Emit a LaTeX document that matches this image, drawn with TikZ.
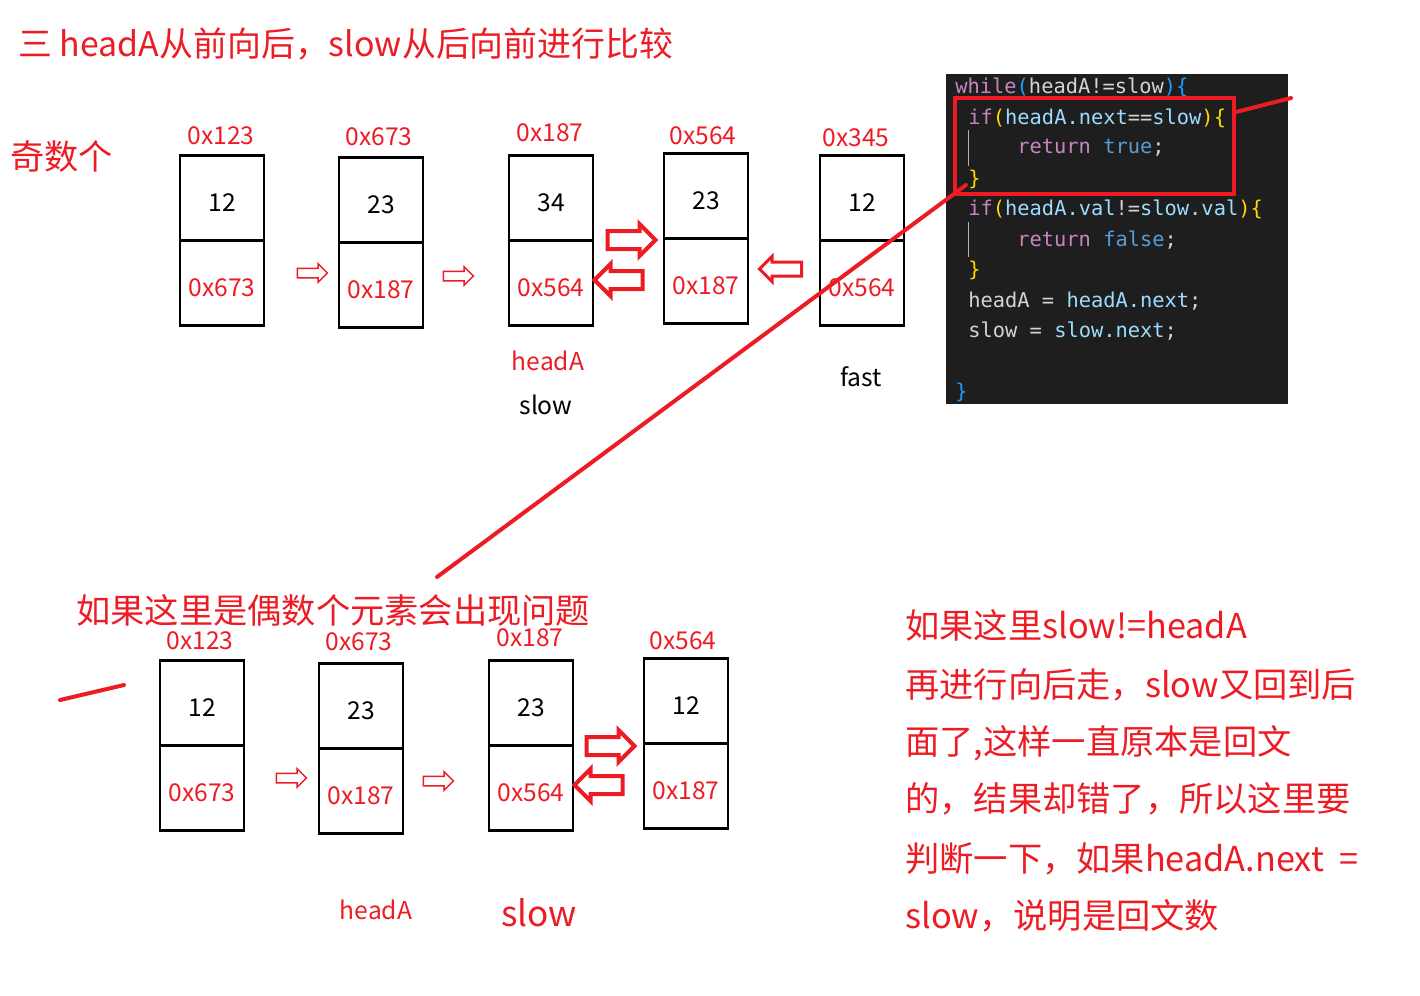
\documentclass[tikz,border=0pt]{standalone}
\usepackage{fontspec}
\setmainfont{Noto Sans CJK SC}
\setmonofont{DejaVu Sans Mono}
\usetikzlibrary{positioning,shapes.arrows}
\definecolor{mkred}{HTML}{ED1C24}
\definecolor{codebg}{HTML}{1E1E1E}
\definecolor{cplain}{HTML}{D4D4D4}
\definecolor{ckey}{HTML}{C586C0}
\definecolor{cvar}{HTML}{9CDCFE}
\definecolor{cblue}{HTML}{569CD6}
\definecolor{cbra}{HTML}{179FFF}
\definecolor{cbrb}{HTML}{FFD700}
\begin{document}
\begin{tikzpicture}[
    x=0.02cm, y=-0.02cm,
    cell/.style={draw, line width=0.05cm, outer sep=0pt, inner sep=0pt, minimum width=1.68cm, minimum height=1.7cm, text height=15pt, text depth=0pt, font=\fontsize{14}{16}\selectfont},
    ptr/.style={cell, text=mkred},
    addr/.style={text=mkred, inner sep=0pt, font=\fontsize{14}{16}\selectfont},
    lbl/.style={inner sep=0pt, font=\fontsize{14}{16}\selectfont},
    note/.style={text=mkred, anchor=west, inner sep=0pt, font=\fontsize{19.5}{22}\selectfont},
    harrow/.style={single arrow, draw=mkred, line width=0.03cm, inner sep=0.08cm, minimum height=0.6cm, single arrow head extend=0.09cm},
    marrow/.style={single arrow, draw=mkred, line width=0.06cm, inner sep=0.11cm, minimum height=0.84cm, single arrow head extend=0.11cm},
    barrow/.style={single arrow, draw=mkred, line width=0.08cm, inner sep=0.14cm, minimum height=0.96cm, single arrow head extend=0.14cm},
    code/.style={anchor=west, inner sep=0pt, text=cplain, font=\fontsize{11.6}{13}\selectfont\ttfamily},
    redline/.style={draw=mkred, line width=0.08cm, line cap=round}
]
\path[use as bounding box] (0,0) rectangle (1420,995);

% headings
\node[note, font=\fontsize{19.3}{22}\selectfont] (title) at (18,44) {三 headA从前向后，slow从后向前进行比较};
\node[note] (odd) at (10,157) {奇数个};

% odd list
\node[cell] (t1v) at (222,198) {12};
\node[ptr, below=0pt of t1v] (t1p) {0x673};
\node[addr] (t1a) at (221,136) {0x123};
\node[cell] (t2v) at (381,200) {23};
\node[ptr, below=0pt of t2v] (t2p) {0x187};
\node[addr] (t2a) at (379,137) {0x673};
\node[cell] (t3v) at (551,198) {34};
\node[ptr, below=0pt of t3v] (t3p) {0x564};
\node[addr] (t3a) at (550,133) {0x187};
\node[cell] (t4v) at (706,196) {23};
\node[ptr, below=0pt of t4v] (t4p) {0x187};
\node[addr] (t4a) at (703,136) {0x564};
\node[cell] (t5v) at (862,198) {12};
\node[ptr, below=0pt of t5v] (t5p) {0x564};
\node[addr] (t5a) at (856,138) {0x345};

\node[harrow] (ta1) at (310,273) {};
\node[harrow] (ta2) at (456,276) {};
\node[barrow] (ta3) at (627,240) {};
\node[barrow, shape border rotate=180] (ta4) at (623,280) {};
\node[marrow, shape border rotate=180] (ta5) at (784,269) {};

\node[lbl, text=mkred] (theada) at (548,361) {headA};
\node[lbl] (tslow) at (546,405) {slow};
\node[lbl] (tfast) at (861,377) {fast};

% code
\fill[codebg] (946,74) rectangle (1288,404);
\draw[gray!60, line width=0.02cm] (968,130) -- (968,166) (968,222) -- (968,257);
\node[code] (c1) at (955,87) {{\color{ckey}while}{\color{cbra}(}headA!=slow{\color{cbra})\{}};
\node[code] (c2) at (968,118) {{\color{ckey}if}{\color{cbrb}(}{\color{cvar}headA.next}=={\color{cvar}slow}{\color{cbrb})\{}};
\node[code] (c3) at (1017,148) {{\color{ckey}return} {\color{cblue}true};};
\node[code] (c4) at (968,179) {{\color{cbrb}\}}};
\node[code] (c5) at (968,209) {{\color{ckey}if}{\color{cbrb}(}{\color{cvar}headA.val}!={\color{cvar}slow.val}{\color{cbrb})\{}};
\node[code] (c6) at (1017,240) {{\color{ckey}return} {\color{cblue}false};};
\node[code] (c7) at (968,270) {{\color{cbrb}\}}};
\node[code] (c8) at (968,301) {headA = {\color{cvar}headA.next};};
\node[code] (c9) at (968,331) {slow = {\color{cvar}slow.next};};
\node[code] (c10) at (955,392) {{\color{cbra}\}}};
\node[draw=mkred, line width=0.08cm, minimum width=5.58cm, minimum height=1.92cm] (redbox) at (1094.5,146) {};

% even list
\node[note] (even) at (76,610) {如果这里是偶数个元素会出现问题};
\node[cell] (b1v) at (202,703) {12};
\node[ptr, below=0pt of b1v] (b1p) {0x673};
\node[addr] (b1a) at (200,641) {0x123};
\node[cell] (b2v) at (361,706) {23};
\node[ptr, below=0pt of b2v] (b2p) {0x187};
\node[addr] (b2a) at (359,642) {0x673};
\node[cell] (b3v) at (531,703) {23};
\node[ptr, below=0pt of b3v] (b3p) {0x564};
\node[addr] (b3a) at (530,638) {0x187};
\node[cell] (b4v) at (686,701) {12};
\node[ptr, below=0pt of b4v] (b4p) {0x187};
\node[addr] (b4a) at (683,641) {0x564};

\node[harrow] (ba1) at (289,778) {};
\node[harrow] (ba2) at (436,781) {};
\node[barrow] (ba3) at (606,746) {};
\node[barrow, shape border rotate=180] (ba4) at (603,785) {};

\node[lbl, text=mkred] (bheada) at (376,910) {headA};
\node[lbl, text=mkred, font=\fontsize{20}{22}\selectfont] (bslow) at (539,913) {slow};

% explanation
\node[note] (n1) at (905,625) {如果这里slow!=headA};
\node[note] (n2) at (905,685) {再进行向后走，slow又回到后};
\node[note] (n3) at (905,743) {面了,这样一直原本是回文};
\node[note] (n4) at (905,799) {的，结果却错了，所以这里要};
\node[note] (n5) at (905,859) {判断一下，如果headA.next\ \ =};
\node[note] (n6) at (905,916) {slow，说明是回文数};

% strokes
\coordinate (s1a) at (1236,112);
\coordinate (s1b) at (1291,98);
\coordinate (s2a) at (966,185);
\coordinate (s2b) at (437,577);
\coordinate (s3a) at (60,700);
\coordinate (s3b) at (124,685);
\draw[redline] (s1a) -- (s1b);
\draw[redline] (s2a) -- (s2b);
\draw[redline] (s3a) -- (s3b);
\end{tikzpicture}
\end{document}
